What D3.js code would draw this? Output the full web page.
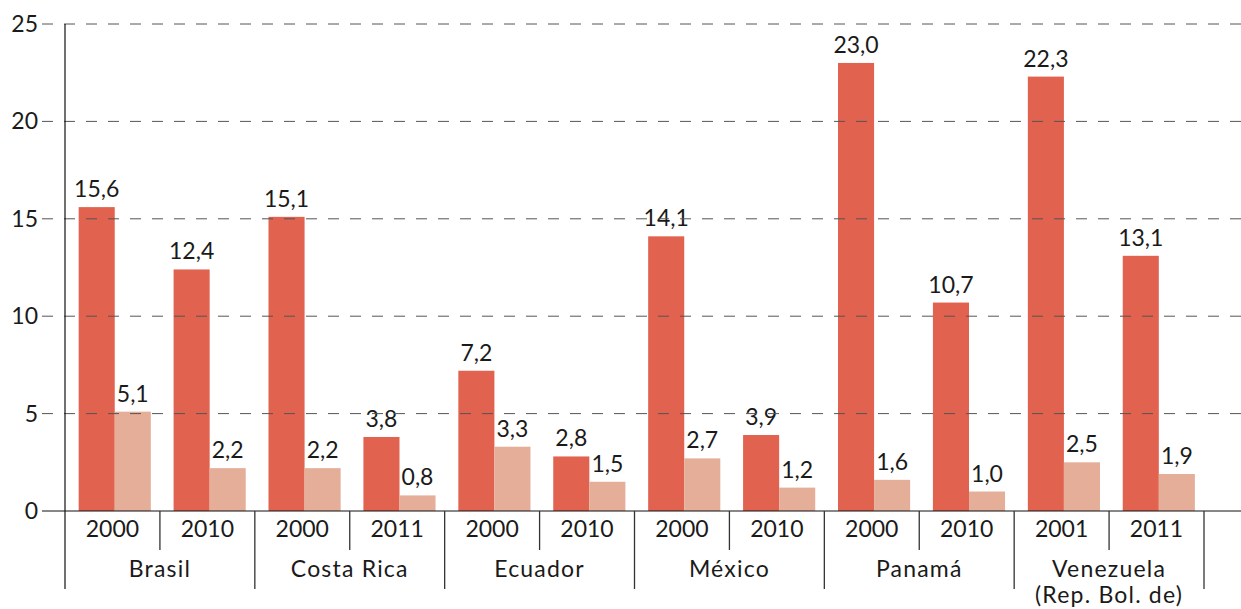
<!DOCTYPE html>
<html>
<head>
<meta charset="utf-8">
<script src="https://cdn.jsdelivr.net/npm/d3@7"></script>
<style>
  html, body { margin: 0; padding: 0; background: #fff; }
  svg { display: block; }
  text { font-family: Lato, "Open Sans", sans-serif; fill: #1a1a1a; }
</style>
</head>
<body>
<svg id="chart" width="1241" height="609"></svg>
<script>
// Country groups and the survey years shown for each
const countries = ["Brasil", "Costa Rica", "Ecuador", "México", "Panamá", "Venezuela\n(Rep. Bol. de)"];
const years = [
  ["2000", "2010"],
  ["2000", "2011"],
  ["2000", "2010"],
  ["2000", "2010"],
  ["2000", "2010"],
  ["2001", "2011"]
];
// Two series per country-year
const seriesA = [15.6, 12.4, 15.1, 3.8, 7.2, 2.8, 14.1, 3.9, 23.0, 10.7, 22.3, 13.1];
const seriesB = [5.1, 2.2, 2.2, 0.8, 3.3, 1.5, 2.7, 1.2, 1.6, 1.0, 2.5, 1.9];
const yTicks = [0, 5, 10, 15, 20, 25];

const fmt = v => v.toFixed(1).replace(".", ",");

const svg = d3.select("#chart");
const plotLeft = 65, plotRight = 1204, plotTop = 24, base = 511;
const fontSize = 23;

// one slot per country-year
const slots = [];
countries.forEach((c, i) => years[i].forEach(yr => slots.push({ key: c + "|" + yr, country: i, year: yr })));
slots.forEach((s, i) => { s.a = seriesA[i]; s.b = seriesB[i]; });

const x0 = d3.scaleBand().domain(slots.map(s => s.key)).range([plotLeft, plotRight])
  .paddingInner(0.24).paddingOuter(0.12).align(0.6);
const x1 = d3.scaleBand().domain(["a", "b"]).range([0, x0.bandwidth()]);
const y = d3.scaleLinear().domain([0, 25]).range([base, plotTop]);
const step = x0.step();
const slotStart = i => plotLeft + i * step;

const colors = { a: "#e0624f", b: "#e4ae99" };

// bars with their value labels
const g = svg.append("g");
slots.forEach(s => {
  ["a", "b"].forEach(k => {
    const v = s[k];
    g.append("rect")
      .attr("x", x0(s.key) + x1(k))
      .attr("width", x1.bandwidth())
      .attr("y", y(v))
      .attr("height", base - y(v))
      .attr("fill", colors[k]);
    g.append("text")
      .attr("x", x0(s.key) + x1(k) + x1.bandwidth() / 2)
      .attr("y", y(v) - 10)
      .attr("text-anchor", "middle")
      .attr("font-size", fontSize)
      .text(fmt(v));
  });
});

// dashed gridlines drawn over the bars
yTicks.filter(t => t > 0).forEach(t => {
  svg.append("line")
    .attr("x1", 42).attr("x2", 1241)
    .attr("y1", y(t)).attr("y2", y(t))
    .attr("stroke", "#555").attr("stroke-width", 1)
    .attr("stroke-dasharray", "11,11");
});

// y axis tick labels
yTicks.forEach(t => {
  svg.append("text")
    .attr("x", 38).attr("y", y(t) + 8)
    .attr("text-anchor", "end")
    .attr("font-size", fontSize)
    .text(t);
});

// baseline and y axis line
svg.append("line").attr("x1", 42).attr("x2", 1241).attr("y1", base).attr("y2", base)
  .attr("stroke", "#111").attr("stroke-width", 1.2);
svg.append("line").attr("x1", plotLeft).attr("x2", plotLeft).attr("y1", plotTop).attr("y2", 589)
  .attr("stroke", "#111").attr("stroke-width", 1.2);

// separators between years and between countries
for (let i = 1; i <= slots.length; i++) {
  const isCountry = i % 2 === 0;
  svg.append("line")
    .attr("x1", slotStart(i)).attr("x2", slotStart(i))
    .attr("y1", base).attr("y2", isCountry ? 589 : 550)
    .attr("stroke", "#333").attr("stroke-width", 1.3);
}

// year labels
slots.forEach((s, i) => {
  svg.append("text")
    .attr("x", slotStart(i) + step / 2)
    .attr("y", 537)
    .attr("text-anchor", "middle")
    .attr("font-size", fontSize)
    .text(s.year);
});

// country labels
countries.forEach((c, i) => {
  const cx = slotStart(i * 2) + step;
  const t = svg.append("text")
    .attr("x", cx)
    .attr("y", 577)
    .attr("text-anchor", "middle")
    .attr("font-size", fontSize)
    .attr("letter-spacing", 1.2);
  c.split("\n").forEach((line, j) => {
    t.append("tspan").attr("x", cx).attr("dy", j === 0 ? 0 : 26).text(line);
  });
});
</script>
</body>
</html>
